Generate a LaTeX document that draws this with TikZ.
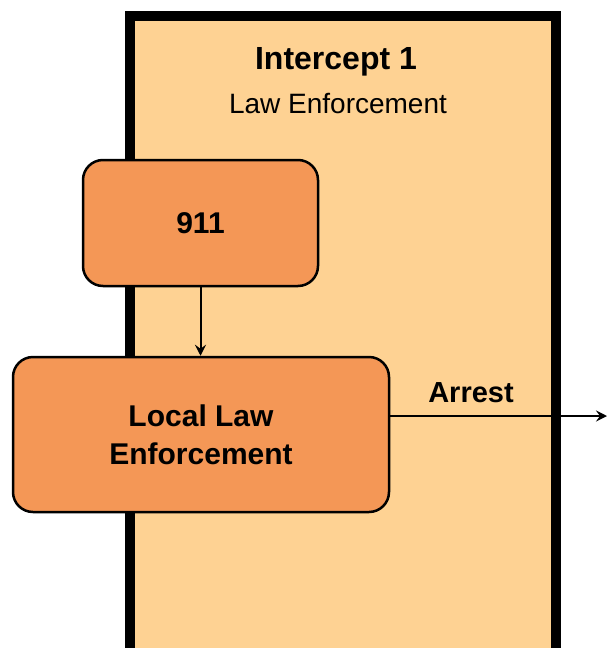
\documentclass[tikz,border=0pt]{standalone}
\usepackage{fontspec}
\setmainfont{Liberation Sans}
\usetikzlibrary{arrows.meta}
\definecolor{lightor}{HTML}{FED293}
\definecolor{boxor}{HTML}{F49756}
\tikzset{
  stagebox/.style={draw=black, line width=2.5pt, fill=boxor, rounded corners=20pt, align=center, inner sep=0pt},
  conn/.style={draw=black, line width=2pt, -{Stealth[length=11pt,width=11pt,inset=4pt]}},
  medtext/.style={font=\fontsize{30}{38}\selectfont\bfseries},
}
\begin{document}
\begin{tikzpicture}[x=1pt,y=-1pt]
\clip (0,0) rectangle (607,648);
\fill[white] (0,0) rectangle (607,648);
% intercept frame
\draw[line width=10pt, fill=lightor] (130,16) rectangle (555.5,653);
\node[anchor=base, font=\fontsize{32}{38}\selectfont\bfseries] (title) at (336,69) {Intercept 1};
\node[anchor=base, font=\fontsize{28}{34}\selectfont] (subtitle) at (338,113) {Law Enforcement};
% boxes
\node[stagebox, minimum width=235pt, minimum height=126pt, medtext] (n911) at (200.5,223) {911};
\node[stagebox, minimum width=376pt, minimum height=155pt, medtext] (lle) at (201,434.5) {Local Law\\Enforcement};
% connectors
\draw[conn] (n911.south) -- (n911.south |- lle.north);
\coordinate (arrestend) at (607,416);
\draw[conn] (lle.east |- arrestend) -- (arrestend);
\node[anchor=base, font=\fontsize{29}{34}\selectfont\bfseries] (arrestlbl) at (471,402) {Arrest};
\end{tikzpicture}
\end{document}
